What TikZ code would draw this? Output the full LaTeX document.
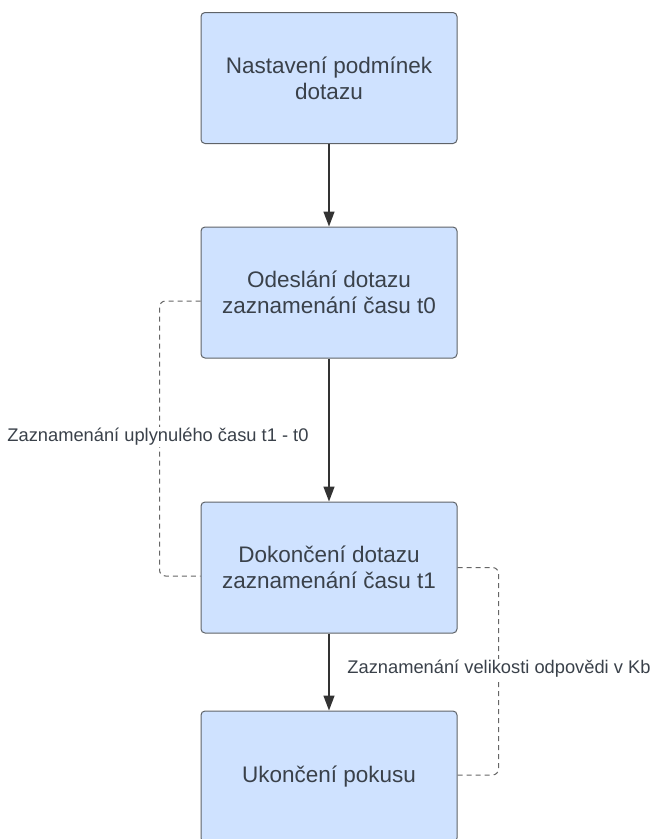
\documentclass[tikz,border=0pt]{standalone}
\usepackage{fontspec}
\setmainfont{Liberation Sans}
\usetikzlibrary{arrows.meta}
\definecolor{boxfill}{HTML}{CFE2FF}
\definecolor{boxdraw}{HTML}{5F6368}
\definecolor{txt}{HTML}{3A414A}
\definecolor{arr}{HTML}{333333}
\definecolor{dash}{HTML}{666666}
\tikzset{
  stepbox/.style={draw=boxdraw, line width=1pt, fill=boxfill, rounded corners=4pt,
    minimum width=256pt, minimum height=131pt, align=center, text=txt,
    font=\fontsize{22.5}{26}\selectfont, inner sep=0pt},
  flow/.style={draw=arr, line width=1.4pt, -{Triangle[length=15pt,width=11pt]}},
  dashline/.style={draw=dash, line width=1pt, dash pattern=on 5pt off 4pt, rounded corners=6pt},
  lbl/.style={fill=white, text=txt, font=\fontsize{18.3}{22}\selectfont, inner sep=1pt}
}
\begin{document}
\begin{tikzpicture}[x=1pt,y=-1pt]
\useasboundingbox (0,0) rectangle (650,839);
\begin{scope}
\clip (0,0) rectangle (650,839);
\node[stepbox] (b1) at (329,78) {Nastavení podmínek\\dotazu};
\node[stepbox] (b2) at (329,292.5) {Odeslání dotazu\\zaznamenání času t0};
\node[stepbox] (b3) at (329,567.5) {Dokončení dotazu\\zaznamenání času t1};
\node[stepbox] (b4) at (329,776.5) {Ukončení pokusu};

\draw[flow] (b1.south) -- (b2.north);
\draw[flow] (b2.south) -- (b3.north);
\draw[flow] (b3.south) -- (b4.north);

\draw[dashline] ([yshift=-8.5pt]b2.west) -- ++(-41,0) |- ([yshift=-8.5pt]b3.west);
\draw[dashline] (b3.east) -- ++(41,0) |- ([yshift=1.5pt]b4.east);

\node[lbl] (l1) at (158,437) {Zaznamenání uplynulého času t1 - t0};
\node[lbl] (l2) at (499,669) {Zaznamenání velikosti odpovědi v Kb};
\end{scope}
\end{tikzpicture}
\end{document}
